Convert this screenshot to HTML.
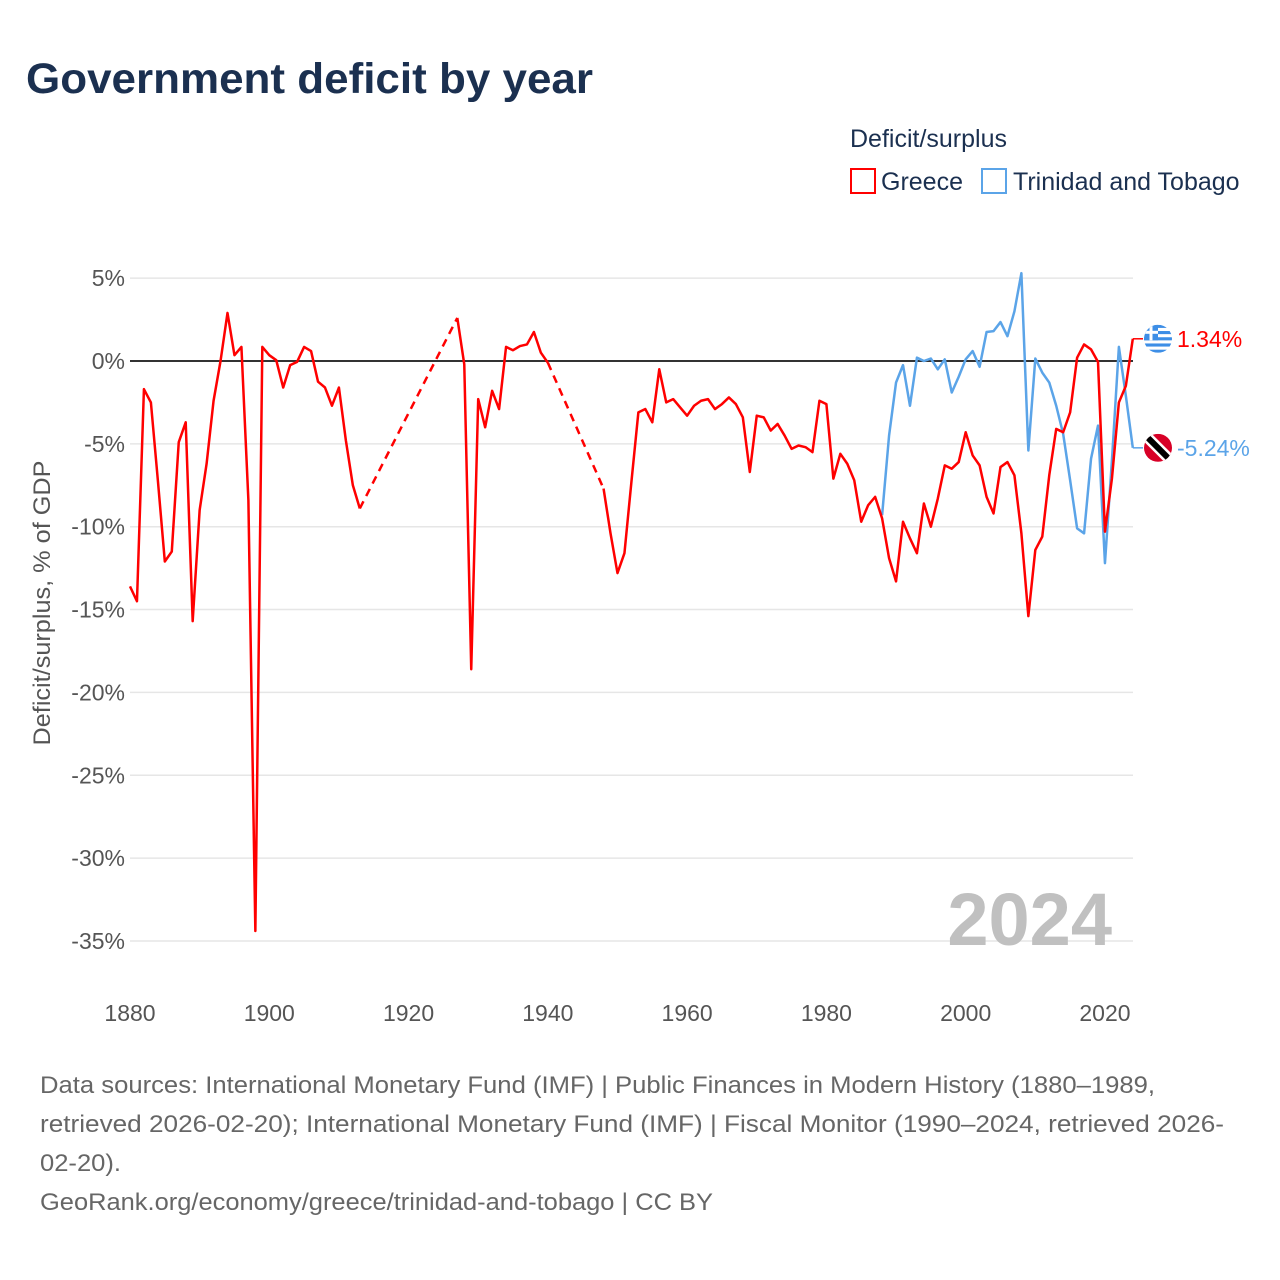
<!DOCTYPE html>
<html><head><meta charset="utf-8"><style>
body{margin:0;background:#fff;font-family:"Liberation Sans",sans-serif}
svg{display:block}
</style></head><body>
<svg id="chart" width="1280" height="1280" viewBox="0 0 1280 1280">
<text x="26" y="93" font-size="43" font-weight="bold" fill="#1b3050" textLength="567" lengthAdjust="spacingAndGlyphs">Government deficit by year</text>
<g>
<text x="850" y="147" font-size="25" fill="#1b3050">Deficit/surplus</text>
<rect x="851" y="169" width="24" height="24" fill="none" stroke="#ff0000" stroke-width="2"/>
<text x="881" y="190" font-size="25" fill="#1b3050">Greece</text>
<rect x="982" y="169" width="24" height="24" fill="none" stroke="#5ba4e8" stroke-width="2"/>
<text x="1013" y="190" font-size="25" fill="#1b3050">Trinidad and Tobago</text>
</g>
<text transform="translate(50,603) rotate(-90)" text-anchor="middle" font-size="24" fill="#555" textLength="285" lengthAdjust="spacingAndGlyphs">Deficit/surplus, % of GDP</text>
<g id="grid"></g>
<text x="1112" y="945" text-anchor="end" font-size="74" font-weight="bold" fill="#c0c0c0">2024</text>
<g id="series"></g>
<g id="labels"></g>
<text x="40" y="1093" font-size="24" fill="#666" textLength="1115" lengthAdjust="spacingAndGlyphs">Data sources: International Monetary Fund (IMF) | Public Finances in Modern History (1880–1989,</text>
<text x="40" y="1132" font-size="24" fill="#666" textLength="1184" lengthAdjust="spacingAndGlyphs">retrieved 2026-02-20); International Monetary Fund (IMF) | Fiscal Monitor (1990–2024, retrieved 2026-</text>
<text x="40" y="1171" font-size="24" fill="#666" textLength="81" lengthAdjust="spacingAndGlyphs">02-20).</text>
<text x="40" y="1210" font-size="24" fill="#666" textLength="673" lengthAdjust="spacingAndGlyphs">GeoRank.org/economy/greece/trinidad-and-tobago | CC BY</text>
</svg>
<script>
const yTicks=[5,0,-5,-10,-15,-20,-25,-30,-35];
const xTicks=[1880,1900,1920,1940,1960,1980,2000,2020];
const greeceYears=[1880,1881,1882,1883,1884,1885,1886,1887,1888,1889,1890,1891,1892,1893,1894,1895,1896,1897,1898,1899,1900,1901,1902,1903,1904,1905,1906,1907,1908,1909,1910,1911,1912,1913,1927,1928,1929,1930,1931,1932,1933,1934,1935,1936,1937,1938,1939,1940,1948,1949,1950,1951,1952,1953,1954,1955,1956,1957,1958,1959,1960,1961,1962,1963,1964,1965,1966,1967,1968,1969,1970,1971,1972,1973,1974,1975,1976,1977,1978,1979,1980,1981,1982,1983,1984,1985,1986,1987,1988,1989,1990,1991,1992,1993,1994,1995,1996,1997,1998,1999,2000,2001,2002,2003,2004,2005,2006,2007,2008,2009,2010,2011,2012,2013,2014,2015,2016,2017,2018,2019,2020,2021,2022,2023,2024];
const greeceValues=[-13.6,-14.5,-1.7,-2.5,-7.2,-12.1,-11.5,-4.9,-3.7,-15.7,-9.0,-6.2,-2.4,0,2.9,0.35,0.85,-8.4,-34.4,0.85,0.35,0.05,-1.6,-0.25,-0.05,0.85,0.6,-1.25,-1.6,-2.7,-1.6,-4.8,-7.5,-8.9,2.6,-0.2,-18.6,-2.3,-4.0,-1.8,-2.9,0.85,0.65,0.9,1.0,1.75,0.5,-0.1,-7.7,-10.4,-12.8,-11.6,-7.3,-3.1,-2.9,-3.7,-0.5,-2.5,-2.3,-2.8,-3.3,-2.7,-2.4,-2.3,-2.9,-2.6,-2.2,-2.6,-3.4,-6.7,-3.3,-3.4,-4.2,-3.8,-4.5,-5.3,-5.1,-5.2,-5.5,-2.4,-2.6,-7.1,-5.6,-6.2,-7.2,-9.7,-8.7,-8.2,-9.5,-11.9,-13.3,-9.7,-10.7,-11.6,-8.6,-10.0,-8.3,-6.3,-6.5,-6.1,-4.3,-5.7,-6.3,-8.2,-9.2,-6.4,-6.1,-6.9,-10.4,-15.4,-11.4,-10.6,-6.9,-4.1,-4.3,-3.1,0.2,1.0,0.7,-0.05,-10.3,-7.1,-2.5,-1.5,1.34];
const ttYears=[1988,1989,1990,1991,1992,1993,1994,1995,1996,1997,1998,1999,2000,2001,2002,2003,2004,2005,2006,2007,2008,2009,2010,2011,2012,2013,2014,2015,2016,2017,2018,2019,2020,2021,2022,2023,2024];
const ttValues=[-9.3,-4.5,-1.3,-0.25,-2.7,0.2,0,0.15,-0.5,0.1,-1.9,-0.95,0.1,0.6,-0.35,1.75,1.8,2.35,1.5,3.0,5.3,-5.4,0.15,-0.7,-1.3,-2.7,-4.4,-7.2,-10.1,-10.4,-5.9,-3.9,-12.2,-6.0,0.85,-2.1,-5.24];

const NS='http://www.w3.org/2000/svg';
const X=y=>130+(y-1880)*6.964;
const Y=v=>361-v*16.57;
function mk(tag,attrs,parent){const e=document.createElementNS(NS,tag);for(const k in attrs)e.setAttribute(k,attrs[k]);parent.appendChild(e);return e;}
const grid=document.getElementById('grid');
yTicks.forEach(t=>{
  const l=mk('line',{x1:130,x2:1133,y1:Y(t),y2:Y(t),stroke:'#e6e6e6','stroke-width':1.5},grid);
  
  
  const tx=mk('text',{x:125,y:Y(t)+8,'text-anchor':'end','font-size':23,fill:'#555'},grid);
  tx.textContent=t+'%';
  
  
});
const zl=mk('line',{x1:130,x2:1133,y1:Y(0),y2:Y(0),stroke:'#333','stroke-width':2},grid);


xTicks.forEach(t=>{
  const tx=mk('text',{x:X(t),y:1021,'text-anchor':'middle','font-size':23,fill:'#555'},grid);
  tx.textContent=t;
  
  
});
const ser=document.getElementById('series');
function drawSeries(years,vals,color,name){
  let seg=[];
  const segs=[];
  for(let i=0;i<years.length;i++){
    if(i>0&&years[i]-years[i-1]>1){
      segs.push(seg);
      const d=mk('path',{d:`M${X(years[i-1])},${Y(vals[i-1])}L${X(years[i])},${Y(vals[i])}`,fill:'none',stroke:color,'stroke-width':2.5,'stroke-dasharray':'8,6'},ser);
      
      
      seg=[];
    }
    seg.push([X(years[i]),Y(vals[i])]);
  }
  segs.push(seg);
  segs.forEach(s=>{
    const p=mk('path',{d:'M'+s.map(q=>q.join(',')).join('L'),fill:'none',stroke:color,'stroke-width':2.5,'stroke-linejoin':'round'},ser);
    
    
  });
}
drawSeries(ttYears,ttValues,'#5ba4e8','trinidad');
drawSeries(greeceYears,greeceValues,'#ff0000','greece');

const lab=document.getElementById('labels');
function endLabel(years,vals,color,name,flag){
  const v=vals[vals.length-1],x=X(years[years.length-1]),y=Y(v);
  const l=mk('line',{x1:x,x2:1143,y1:y,y2:y,stroke:color,'stroke-width':1.5},lab);
  
  
  const g=mk('g',{},lab);
  
  
  const cid='clip-'+name;
  const cp=mk('clipPath',{id:cid},g);mk('circle',{cx:1158,cy:y,r:14},cp);
  const inner=mk('g',{'clip-path':`url(#${cid})`},g);
  if(flag==='gr'){
    mk('rect',{x:1144,y:y-14,width:28,height:28,fill:'#fff'},inner);
    for(let i=0;i<9;i+=2)mk('rect',{x:1144,y:y-14+i*28/9,width:28,height:28/9,fill:'#3d8ee6'},inner);
    mk('rect',{x:1144,y:y-14,width:14,height:15.5,fill:'#3d8ee6'},inner);
    mk('rect',{x:1144,y:y-8,width:14,height:3,fill:'#fff'},inner);
    mk('rect',{x:1149.5,y:y-14,width:3,height:15.5,fill:'#fff'},inner);
  }else{
    mk('rect',{x:1144,y:y-14,width:28,height:28,fill:'#d80027'},inner);
    mk('line',{x1:1144,y1:y-14,x2:1172,y2:y+14,stroke:'#fff','stroke-width':11},inner);
    mk('line',{x1:1144,y1:y-14,x2:1172,y2:y+14,stroke:'#000','stroke-width':6},inner);
  }
  const t=mk('text',{x:1177,y:y+8,'font-size':23,fill:color},lab);
  t.textContent=v.toFixed(2)+'%';
  
  
}
endLabel(greeceYears,greeceValues,'#ff0000','greece','gr');
endLabel(ttYears,ttValues,'#5ba4e8','trinidad','tt');
</script>
</body></html>
